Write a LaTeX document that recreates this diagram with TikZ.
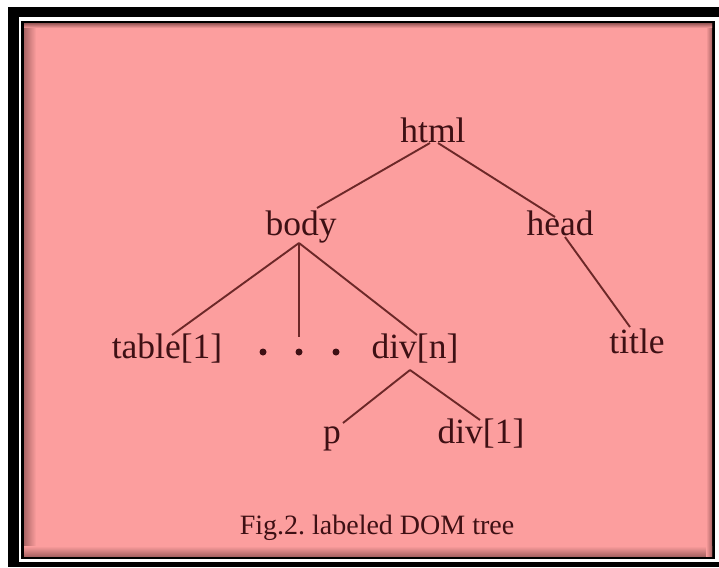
\documentclass[tikz,border=0pt]{standalone}
\usepackage{fontspec}
\setmainfont{Liberation Serif}
\frenchspacing
\definecolor{bgpink}{RGB}{252,158,158}
\definecolor{shadepink}{RGB}{170,100,100}
\definecolor{txtcol}{RGB}{62,16,20}
\definecolor{linecol}{RGB}{108,40,40}
\tikzset{
  lbl/.style={anchor=base, inner sep=0pt, text=txtcol, font=\fontsize{35.5}{37}\selectfont},
  captext/.style={anchor=base, inner sep=0pt, text=txtcol, font=\fontsize{28}{30}\selectfont},
  dotnode/.style={circle, fill=txtcol, inner sep=0pt, minimum size=7pt},
  conn/.style={draw=linecol, line width=1.9pt}
}
\begin{document}
\begin{tikzpicture}[x=1pt, y=-1pt]
\useasboundingbox (0,0) rectangle (719,567);
% frame
\fill[white] (0,0) rectangle (719,567);
\fill[black] (8,7) rectangle (719,567);
\fill[white] (19,17) rectangle (719,562);
\fill[black] (21,21) rectangle (715,559);
\fill[bgpink] (24,24) rectangle (712,556);
% inner shadows
\shade[left color=shadepink, right color=bgpink] (24,24) rectangle (36,556);
\shade[top color=bgpink, bottom color=shadepink] (24,546) rectangle (712,556);
\shade[left color=bgpink, right color=shadepink] (706,24) rectangle (712,556);
\shade[top color=shadepink, bottom color=bgpink] (24,24) rectangle (712,28);
% nodes
\node[lbl] (html) at (433,142) {html};
\node[lbl] (body) at (301,235) {body};
\node[lbl] (head) at (560,235) {head};
\node[lbl] (table) at (167,358) {table[1]};
\node[dotnode] (dotA) at (263,352) {};
\node[dotnode] (dotB) at (299,352) {};
\node[dotnode] (dotC) at (336,352) {};
\node[lbl] (divn) at (415,358) {div[n]};
\node[lbl] (title) at (637,353) {title};
\node[lbl] (p) at (332,443) {p};
\node[lbl] (div1) at (481,443) {div[1]};
\node[captext] (caption) at (377,534) {Fig.2. labeled DOM tree};
% connectors
\draw[conn] ([shift={(-3,1)}]html.base) -- ([shift={(16,-27)}]body.base);
\draw[conn] ([shift={(5,1)}]html.base) -- ([shift={(-5,-18)}]head.base);
\draw[conn] ([shift={(5,2)}]head.base) -- ([shift={(-7,-26)}]title.base);
\draw[conn] ([shift={(-2,8)}]body.base) -- ([shift={(5,-23)}]table.base);
\draw[conn] ([shift={(-2,8)}]body.base) -- ([shift={(0,-15)}]dotB.center);
\draw[conn] ([shift={(-2,8)}]body.base) -- ([shift={(2,-23)}]divn.base);
\draw[conn] ([shift={(-5,12)}]divn.base) -- ([shift={(11,-20)}]p.base);
\draw[conn] ([shift={(-5,12)}]divn.base) -- ([shift={(-1,-23)}]div1.base);
\end{tikzpicture}
\end{document}
